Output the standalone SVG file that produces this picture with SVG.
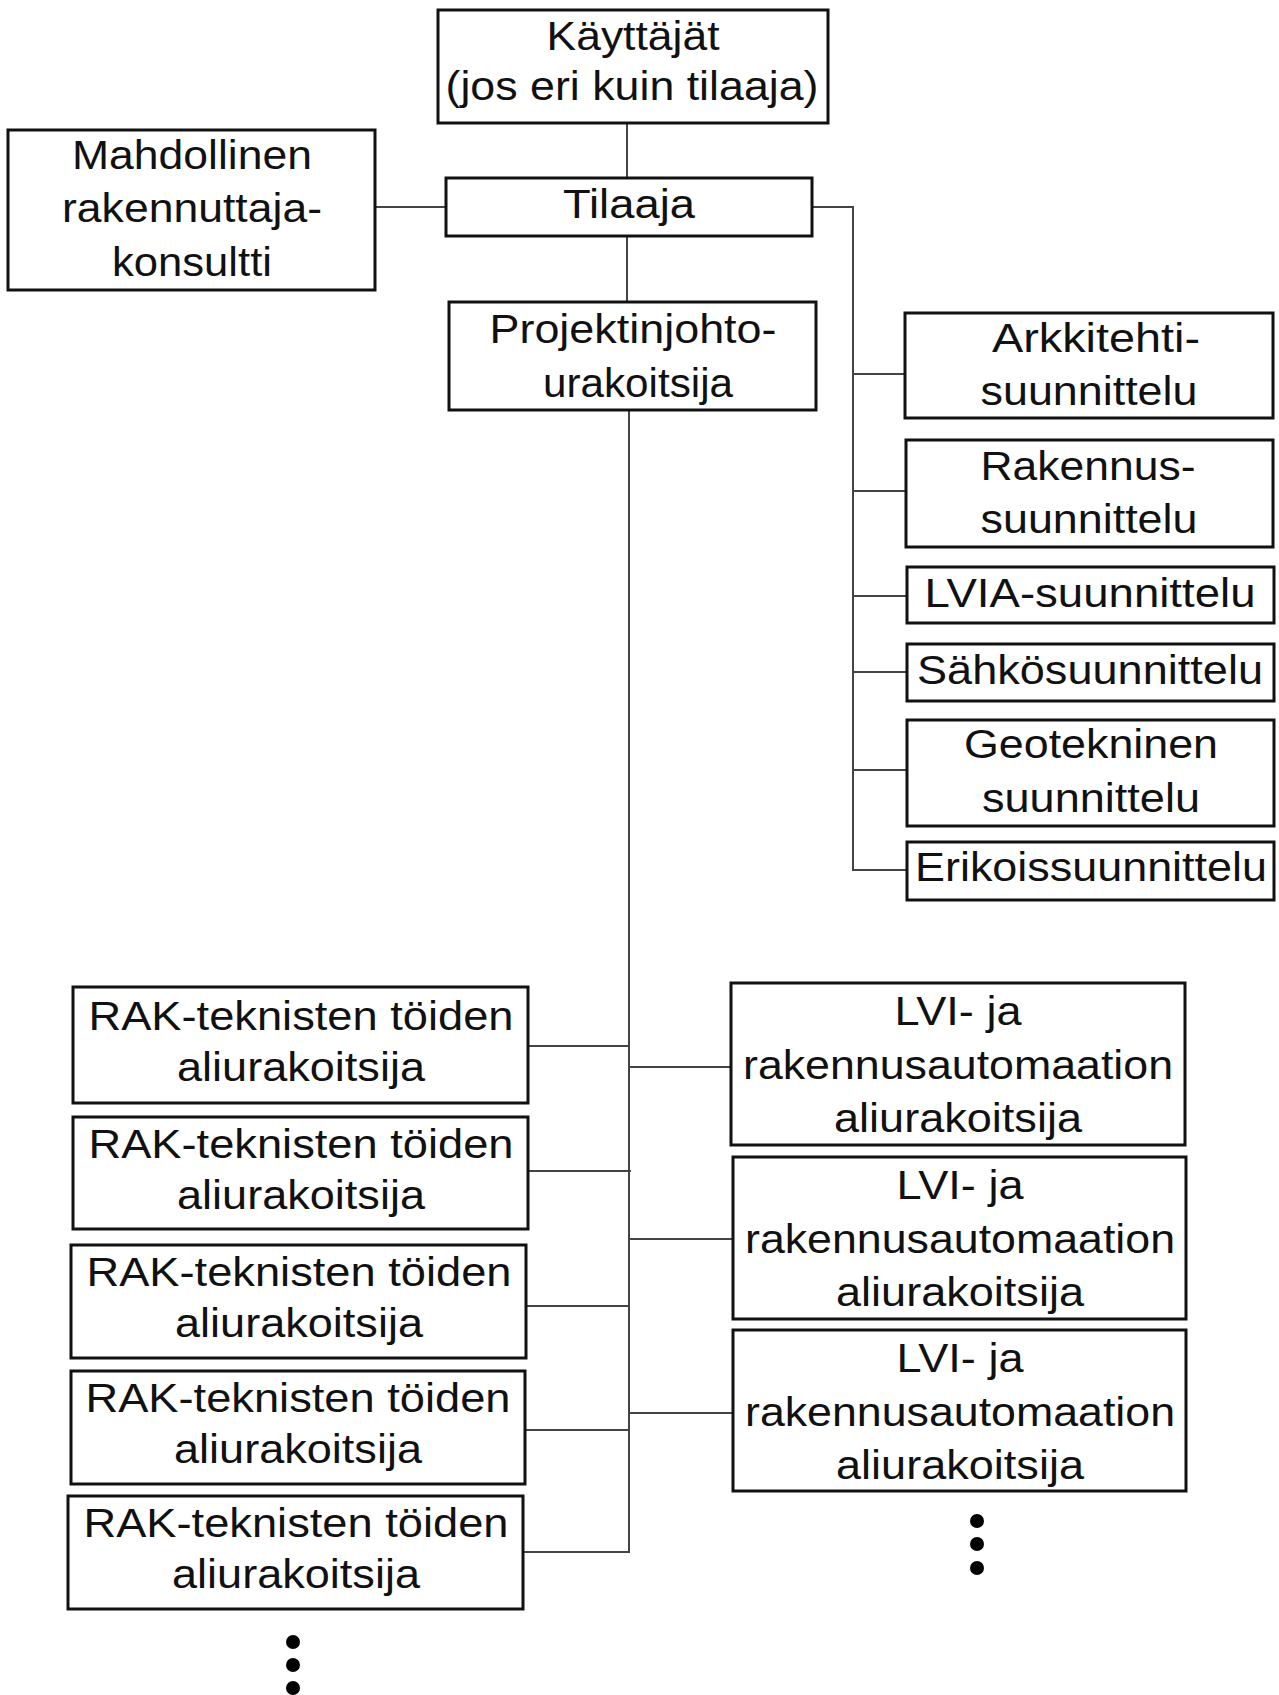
<svg xmlns="http://www.w3.org/2000/svg" width="1279" height="1695" viewBox="0 0 1279 1695">
<style>
.box{fill:#fff;stroke:#111;stroke-width:3}
.t{font-family:"Liberation Sans",Arial,sans-serif;font-size:41px;fill:#111;text-anchor:middle}
.c{stroke:#444;stroke-width:2;fill:none}
.dot{fill:#000}
</style>
<rect width="1279" height="1695" fill="#fff"/>
<g id="connectors">
<line class="c" x1="627" y1="123" x2="627" y2="178"/>
<line class="c" x1="627" y1="236" x2="627" y2="302" stroke="#111"/>
<line class="c" x1="375" y1="207" x2="446" y2="207"/>
<polyline class="c" points="812,207 853,207 853,870 907,870"/>
<line class="c" x1="853" y1="374" x2="905" y2="374"/>
<line class="c" x1="853" y1="491" x2="906" y2="491"/>
<line class="c" x1="853" y1="596" x2="907" y2="596"/>
<line class="c" x1="853" y1="672" x2="907" y2="672"/>
<line class="c" x1="853" y1="770" x2="907" y2="770"/>
<polyline class="c" points="629,410 629,1552 523,1552"/>
<line class="c" x1="528" y1="1046" x2="629" y2="1046"/>
<line class="c" x1="528" y1="1171" x2="631" y2="1171" stroke="#111"/>
<line class="c" x1="526" y1="1306" x2="629" y2="1306"/>
<line class="c" x1="525" y1="1430" x2="629" y2="1430"/>
<line class="c" x1="629" y1="1067" x2="731" y2="1067"/>
<line class="c" x1="629" y1="1239" x2="733" y2="1239"/>
<line class="c" x1="629" y1="1413" x2="733" y2="1413"/>
</g>
<g id="kayttajat">
<rect class="box" x="438" y="10" width="390" height="113"/>
<text class="t" x="633" y="50" textLength="173" lengthAdjust="spacingAndGlyphs">Käyttäjät</text>
<text class="t" x="632" y="100" textLength="373" lengthAdjust="spacingAndGlyphs">(jos eri kuin tilaaja)</text>
</g>
<g id="mahdollinen">
<rect class="box" x="8" y="130" width="367" height="160"/>
<text class="t" x="192" y="169" textLength="240" lengthAdjust="spacingAndGlyphs">Mahdollinen</text>
<text class="t" x="192" y="222" textLength="260" lengthAdjust="spacingAndGlyphs">rakennuttaja-</text>
<text class="t" x="192" y="276" textLength="160" lengthAdjust="spacingAndGlyphs">konsultti</text>
</g>
<g id="tilaaja">
<rect class="box" x="446" y="178" width="366" height="58"/>
<text class="t" x="629" y="218" textLength="132" lengthAdjust="spacingAndGlyphs">Tilaaja</text>
</g>
<g id="projektinjohto">
<rect class="box" x="449" y="302" width="367" height="108"/>
<text class="t" x="633" y="343" textLength="287" lengthAdjust="spacingAndGlyphs">Projektinjohto-</text>
<text class="t" x="638" y="397" textLength="190" lengthAdjust="spacingAndGlyphs">urakoitsija</text>
</g>
<g id="arkkitehti">
<rect class="box" x="905" y="313" width="368" height="105"/>
<text class="t" x="1096" y="352" textLength="208" lengthAdjust="spacingAndGlyphs">Arkkitehti-</text>
<text class="t" x="1089" y="405" textLength="217" lengthAdjust="spacingAndGlyphs">suunnittelu</text>
</g>
<g id="rakennus">
<rect class="box" x="906" y="440" width="367" height="107"/>
<text class="t" x="1088" y="480" textLength="215" lengthAdjust="spacingAndGlyphs">Rakennus-</text>
<text class="t" x="1089" y="533" textLength="217" lengthAdjust="spacingAndGlyphs">suunnittelu</text>
</g>
<g id="lvia">
<rect class="box" x="907" y="567" width="367" height="56"/>
<text class="t" x="1090" y="607" textLength="331" lengthAdjust="spacingAndGlyphs">LVIA-suunnittelu</text>
</g>
<g id="sahko">
<rect class="box" x="907" y="644" width="367" height="57"/>
<text class="t" x="1090" y="684" textLength="346" lengthAdjust="spacingAndGlyphs">Sähkösuunnittelu</text>
</g>
<g id="geotekninen">
<rect class="box" x="907" y="720" width="367" height="106"/>
<text class="t" x="1091" y="758" textLength="254" lengthAdjust="spacingAndGlyphs">Geotekninen</text>
<text class="t" x="1091" y="812" textLength="218" lengthAdjust="spacingAndGlyphs">suunnittelu</text>
</g>
<g id="erikois">
<rect class="box" x="907" y="842" width="367" height="58"/>
<text class="t" x="1091" y="881" textLength="352" lengthAdjust="spacingAndGlyphs">Erikoissuunnittelu</text>
</g>
<g id="rak1">
<rect class="box" x="73" y="987" width="455" height="116"/>
<text class="t" x="301" y="1030" textLength="425" lengthAdjust="spacingAndGlyphs">RAK-teknisten töiden</text>
<text class="t" x="301" y="1081" textLength="248" lengthAdjust="spacingAndGlyphs">aliurakoitsija</text>
</g>
<g id="rak2">
<rect class="box" x="73" y="1117" width="455" height="112"/>
<text class="t" x="301" y="1158" textLength="425" lengthAdjust="spacingAndGlyphs">RAK-teknisten töiden</text>
<text class="t" x="301" y="1209" textLength="248" lengthAdjust="spacingAndGlyphs">aliurakoitsija</text>
</g>
<g id="rak3">
<rect class="box" x="71" y="1245" width="455" height="113"/>
<text class="t" x="299" y="1286" textLength="425" lengthAdjust="spacingAndGlyphs">RAK-teknisten töiden</text>
<text class="t" x="299" y="1337" textLength="248" lengthAdjust="spacingAndGlyphs">aliurakoitsija</text>
</g>
<g id="rak4">
<rect class="box" x="71" y="1371" width="454" height="113"/>
<text class="t" x="298" y="1412" textLength="425" lengthAdjust="spacingAndGlyphs">RAK-teknisten töiden</text>
<text class="t" x="298" y="1463" textLength="248" lengthAdjust="spacingAndGlyphs">aliurakoitsija</text>
</g>
<g id="rak5">
<rect class="box" x="68" y="1496" width="455" height="113"/>
<text class="t" x="296" y="1537" textLength="425" lengthAdjust="spacingAndGlyphs">RAK-teknisten töiden</text>
<text class="t" x="296" y="1588" textLength="248" lengthAdjust="spacingAndGlyphs">aliurakoitsija</text>
</g>
<g id="lvi1">
<rect class="box" x="731" y="983" width="454" height="162"/>
<text class="t" x="958" y="1025" textLength="127" lengthAdjust="spacingAndGlyphs">LVI- ja</text>
<text class="t" x="958" y="1079" textLength="430" lengthAdjust="spacingAndGlyphs">rakennusautomaation</text>
<text class="t" x="958" y="1132" textLength="248" lengthAdjust="spacingAndGlyphs">aliurakoitsija</text>
</g>
<g id="lvi2">
<rect class="box" x="733" y="1157" width="453" height="162"/>
<text class="t" x="960" y="1199" textLength="127" lengthAdjust="spacingAndGlyphs">LVI- ja</text>
<text class="t" x="960" y="1253" textLength="430" lengthAdjust="spacingAndGlyphs">rakennusautomaation</text>
<text class="t" x="960" y="1306" textLength="248" lengthAdjust="spacingAndGlyphs">aliurakoitsija</text>
</g>
<g id="lvi3">
<rect class="box" x="733" y="1330" width="453" height="161"/>
<text class="t" x="960" y="1372" textLength="127" lengthAdjust="spacingAndGlyphs">LVI- ja</text>
<text class="t" x="960" y="1426" textLength="430" lengthAdjust="spacingAndGlyphs">rakennusautomaation</text>
<text class="t" x="960" y="1479" textLength="248" lengthAdjust="spacingAndGlyphs">aliurakoitsija</text>
</g>
<g id="dots-left">
<circle class="dot" cx="293" cy="1642" r="7"/>
<circle class="dot" cx="293" cy="1665" r="7"/>
<circle class="dot" cx="293" cy="1688" r="7"/>
</g>
<g id="dots-right">
<circle class="dot" cx="977" cy="1521" r="7"/>
<circle class="dot" cx="977" cy="1544" r="7"/>
<circle class="dot" cx="977" cy="1568" r="7"/>
</g>
</svg>
